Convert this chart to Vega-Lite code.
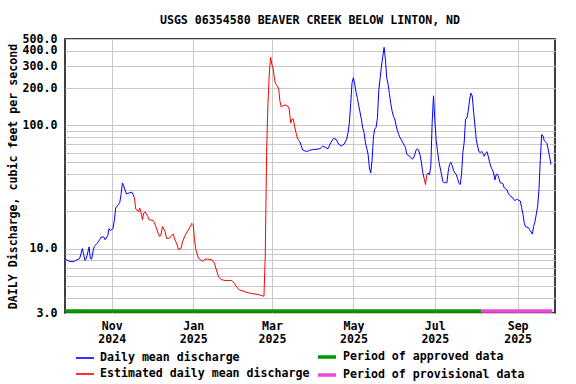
{
"$schema": "https://vega.github.io/schema/vega-lite/v6.json",
"width": 490, "height": 274,
"autosize": {"type": "none"},
"padding": {"left": 65, "top": 39, "right": 21, "bottom": 71},
"background": "white",
"title": {"text": "USGS 06354580 BEAVER CREEK BELOW LINTON, ND", "font": "DejaVu Sans Mono", "fontSize": 11.6, "fontWeight": "bold", "color": "black", "anchor": "middle", "offset": 6},
"config": {"view": {"stroke": "black", "strokeWidth": 1.5}, "font": "DejaVu Sans Mono"},
"resolve": {"scale": {"color": "independent"}},
"layer": [
{
"data": {"values": [
{"date":"2024-09-27","q":8.2,"s":"D","seg":1},
{"date":"2024-09-30","q":7.9,"s":"D","seg":1},
{"date":"2024-10-03","q":7.8,"s":"D","seg":1},
{"date":"2024-10-05","q":8.0,"s":"D","seg":1},
{"date":"2024-10-08","q":8.3,"s":"D","seg":1},
{"date":"2024-10-10","q":10.0,"s":"D","seg":1},
{"date":"2024-10-11","q":8.9,"s":"D","seg":1},
{"date":"2024-10-12","q":8.0,"s":"D","seg":1},
{"date":"2024-10-13","q":8.3,"s":"D","seg":1},
{"date":"2024-10-15","q":10.3,"s":"D","seg":1},
{"date":"2024-10-16","q":8.3,"s":"D","seg":1},
{"date":"2024-10-17","q":8.2,"s":"D","seg":1},
{"date":"2024-10-18","q":9.5,"s":"D","seg":1},
{"date":"2024-10-19","q":10.4,"s":"D","seg":1},
{"date":"2024-10-21","q":11.0,"s":"D","seg":1},
{"date":"2024-10-23","q":11.8,"s":"D","seg":1},
{"date":"2024-10-24","q":12.4,"s":"D","seg":1},
{"date":"2024-10-26","q":12.4,"s":"D","seg":1},
{"date":"2024-10-27","q":11.8,"s":"D","seg":1},
{"date":"2024-10-29","q":12.7,"s":"D","seg":1},
{"date":"2024-10-30","q":14.5,"s":"D","seg":1},
{"date":"2024-10-31","q":14.0,"s":"D","seg":1},
{"date":"2024-11-02","q":14.5,"s":"D","seg":1},
{"date":"2024-11-03","q":17.1,"s":"D","seg":1},
{"date":"2024-11-04","q":21.3,"s":"D","seg":1},
{"date":"2024-11-06","q":22.7,"s":"D","seg":1},
{"date":"2024-11-07","q":23.6,"s":"D","seg":1},
{"date":"2024-11-08","q":27.4,"s":"D","seg":1},
{"date":"2024-11-09","q":34,"s":"D","seg":1},
{"date":"2024-11-10","q":32,"s":"D","seg":1},
{"date":"2024-11-12","q":27.7,"s":"D","seg":1},
{"date":"2024-11-14","q":28.2,"s":"D","seg":1},
{"date":"2024-11-16","q":28.7,"s":"D","seg":1},
{"date":"2024-11-17","q":27.4,"s":"D","seg":1},
{"date":"2024-11-18","q":25.8,"s":"D","seg":1},
{"date":"2024-11-18","q":25.8,"s":"E","seg":2},
{"date":"2024-11-19","q":20.9,"s":"E","seg":2},
{"date":"2024-11-21","q":20.0,"s":"E","seg":2},
{"date":"2024-11-22","q":21.3,"s":"E","seg":2},
{"date":"2024-11-23","q":19.4,"s":"E","seg":2},
{"date":"2024-11-24","q":17.1,"s":"E","seg":2},
{"date":"2024-11-25","q":19.4,"s":"E","seg":2},
{"date":"2024-11-26","q":19.8,"s":"E","seg":2},
{"date":"2024-11-28","q":18.2,"s":"E","seg":2},
{"date":"2024-11-29","q":17.1,"s":"E","seg":2},
{"date":"2024-12-02","q":16.9,"s":"E","seg":2},
{"date":"2024-12-03","q":16.2,"s":"E","seg":2},
{"date":"2024-12-04","q":15.1,"s":"E","seg":2},
{"date":"2024-12-06","q":13.1,"s":"E","seg":2},
{"date":"2024-12-07","q":12.5,"s":"E","seg":2},
{"date":"2024-12-08","q":13.1,"s":"E","seg":2},
{"date":"2024-12-09","q":15.1,"s":"E","seg":2},
{"date":"2024-12-11","q":13.7,"s":"E","seg":2},
{"date":"2024-12-12","q":12.1,"s":"E","seg":2},
{"date":"2024-12-14","q":12.1,"s":"E","seg":2},
{"date":"2024-12-17","q":13.1,"s":"E","seg":2},
{"date":"2024-12-18","q":12.1,"s":"E","seg":2},
{"date":"2024-12-20","q":10.7,"s":"E","seg":2},
{"date":"2024-12-21","q":9.8,"s":"E","seg":2},
{"date":"2024-12-23","q":10.1,"s":"E","seg":2},
{"date":"2024-12-24","q":11.3,"s":"E","seg":2},
{"date":"2024-12-26","q":12.8,"s":"E","seg":2},
{"date":"2024-12-27","q":13.4,"s":"E","seg":2},
{"date":"2024-12-29","q":14.5,"s":"E","seg":2},
{"date":"2024-12-31","q":16.0,"s":"E","seg":2},
{"date":"2025-01-01","q":15.6,"s":"E","seg":2},
{"date":"2025-01-02","q":11.8,"s":"E","seg":2},
{"date":"2025-01-03","q":9.8,"s":"E","seg":2},
{"date":"2025-01-05","q":8.3,"s":"E","seg":2},
{"date":"2025-01-08","q":7.9,"s":"E","seg":2},
{"date":"2025-01-10","q":8.2,"s":"E","seg":2},
{"date":"2025-01-12","q":8.2,"s":"E","seg":2},
{"date":"2025-01-15","q":8.1,"s":"E","seg":2},
{"date":"2025-01-17","q":7.6,"s":"E","seg":2},
{"date":"2025-01-18","q":6.9,"s":"E","seg":2},
{"date":"2025-01-20","q":5.9,"s":"E","seg":2},
{"date":"2025-01-22","q":5.6,"s":"E","seg":2},
{"date":"2025-01-25","q":5.5,"s":"E","seg":2},
{"date":"2025-01-28","q":5.5,"s":"E","seg":2},
{"date":"2025-01-30","q":5.5,"s":"E","seg":2},
{"date":"2025-02-01","q":5.2,"s":"E","seg":2},
{"date":"2025-02-03","q":4.8,"s":"E","seg":2},
{"date":"2025-02-05","q":4.6,"s":"E","seg":2},
{"date":"2025-02-08","q":4.5,"s":"E","seg":2},
{"date":"2025-02-10","q":4.4,"s":"E","seg":2},
{"date":"2025-02-15","q":4.3,"s":"E","seg":2},
{"date":"2025-02-20","q":4.2,"s":"E","seg":2},
{"date":"2025-02-23","q":4.1,"s":"E","seg":2},
{"date":"2025-02-24","q":8.7,"s":"E","seg":2},
{"date":"2025-02-25","q":60,"s":"E","seg":2},
{"date":"2025-02-26","q":150,"s":"E","seg":2},
{"date":"2025-02-27","q":260,"s":"E","seg":2},
{"date":"2025-02-28","q":356,"s":"E","seg":2},
{"date":"2025-03-01","q":310,"s":"E","seg":2},
{"date":"2025-03-02","q":285,"s":"E","seg":2},
{"date":"2025-03-03","q":230,"s":"E","seg":2},
{"date":"2025-03-04","q":215,"s":"E","seg":2},
{"date":"2025-03-06","q":199,"s":"E","seg":2},
{"date":"2025-03-07","q":156,"s":"E","seg":2},
{"date":"2025-03-08","q":140,"s":"E","seg":2},
{"date":"2025-03-09","q":144,"s":"E","seg":2},
{"date":"2025-03-11","q":146,"s":"E","seg":2},
{"date":"2025-03-13","q":142,"s":"E","seg":2},
{"date":"2025-03-14","q":135,"s":"E","seg":2},
{"date":"2025-03-15","q":104,"s":"E","seg":2},
{"date":"2025-03-16","q":112,"s":"E","seg":2},
{"date":"2025-03-17","q":112,"s":"E","seg":2},
{"date":"2025-03-18","q":97,"s":"E","seg":2},
{"date":"2025-03-19","q":87,"s":"E","seg":2},
{"date":"2025-03-20","q":79,"s":"E","seg":2},
{"date":"2025-03-21","q":75,"s":"E","seg":2},
{"date":"2025-03-21","q":75,"s":"D","seg":3},
{"date":"2025-03-22","q":73,"s":"D","seg":3},
{"date":"2025-03-23","q":68,"s":"D","seg":3},
{"date":"2025-03-24","q":63,"s":"D","seg":3},
{"date":"2025-03-27","q":61,"s":"D","seg":3},
{"date":"2025-03-29","q":62.5,"s":"D","seg":3},
{"date":"2025-04-01","q":63.7,"s":"D","seg":3},
{"date":"2025-04-03","q":63.7,"s":"D","seg":3},
{"date":"2025-04-06","q":64.5,"s":"D","seg":3},
{"date":"2025-04-08","q":67.7,"s":"D","seg":3},
{"date":"2025-04-10","q":66,"s":"D","seg":3},
{"date":"2025-04-12","q":64.5,"s":"D","seg":3},
{"date":"2025-04-14","q":72,"s":"D","seg":3},
{"date":"2025-04-16","q":78,"s":"D","seg":3},
{"date":"2025-04-18","q":77,"s":"D","seg":3},
{"date":"2025-04-20","q":70,"s":"D","seg":3},
{"date":"2025-04-22","q":68,"s":"D","seg":3},
{"date":"2025-04-24","q":70,"s":"D","seg":3},
{"date":"2025-04-26","q":77,"s":"D","seg":3},
{"date":"2025-04-27","q":87,"s":"D","seg":3},
{"date":"2025-04-28","q":105,"s":"D","seg":3},
{"date":"2025-04-29","q":150,"s":"D","seg":3},
{"date":"2025-04-30","q":221,"s":"D","seg":3},
{"date":"2025-05-01","q":243,"s":"D","seg":3},
{"date":"2025-05-02","q":215,"s":"D","seg":3},
{"date":"2025-05-03","q":185,"s":"D","seg":3},
{"date":"2025-05-04","q":165,"s":"D","seg":3},
{"date":"2025-05-05","q":144,"s":"D","seg":3},
{"date":"2025-05-07","q":112,"s":"D","seg":3},
{"date":"2025-05-08","q":95,"s":"D","seg":3},
{"date":"2025-05-09","q":87,"s":"D","seg":3},
{"date":"2025-05-10","q":72,"s":"D","seg":3},
{"date":"2025-05-11","q":65,"s":"D","seg":3},
{"date":"2025-05-12","q":58,"s":"D","seg":3},
{"date":"2025-05-13","q":45,"s":"D","seg":3},
{"date":"2025-05-14","q":41,"s":"D","seg":3},
{"date":"2025-05-15","q":52,"s":"D","seg":3},
{"date":"2025-05-16","q":80,"s":"D","seg":3},
{"date":"2025-05-17","q":93,"s":"D","seg":3},
{"date":"2025-05-18","q":96,"s":"D","seg":3},
{"date":"2025-05-19","q":115,"s":"D","seg":3},
{"date":"2025-05-20","q":190,"s":"D","seg":3},
{"date":"2025-05-21","q":240,"s":"D","seg":3},
{"date":"2025-05-22","q":300,"s":"D","seg":3},
{"date":"2025-05-23","q":360,"s":"D","seg":3},
{"date":"2025-05-24","q":428,"s":"D","seg":3},
{"date":"2025-05-25","q":340,"s":"D","seg":3},
{"date":"2025-05-26","q":240,"s":"D","seg":3},
{"date":"2025-05-27","q":215,"s":"D","seg":3},
{"date":"2025-05-28","q":180,"s":"D","seg":3},
{"date":"2025-05-29","q":150,"s":"D","seg":3},
{"date":"2025-05-30","q":130,"s":"D","seg":3},
{"date":"2025-05-31","q":118,"s":"D","seg":3},
{"date":"2025-06-01","q":112,"s":"D","seg":3},
{"date":"2025-06-02","q":99,"s":"D","seg":3},
{"date":"2025-06-03","q":90,"s":"D","seg":3},
{"date":"2025-06-04","q":84,"s":"D","seg":3},
{"date":"2025-06-05","q":79,"s":"D","seg":3},
{"date":"2025-06-06","q":76,"s":"D","seg":3},
{"date":"2025-06-07","q":72,"s":"D","seg":3},
{"date":"2025-06-08","q":69,"s":"D","seg":3},
{"date":"2025-06-09","q":66,"s":"D","seg":3},
{"date":"2025-06-10","q":58,"s":"D","seg":3},
{"date":"2025-06-11","q":57,"s":"D","seg":3},
{"date":"2025-06-12","q":56,"s":"D","seg":3},
{"date":"2025-06-13","q":55,"s":"D","seg":3},
{"date":"2025-06-14","q":53,"s":"D","seg":3},
{"date":"2025-06-15","q":54,"s":"D","seg":3},
{"date":"2025-06-16","q":58,"s":"D","seg":3},
{"date":"2025-06-17","q":63,"s":"D","seg":3},
{"date":"2025-06-18","q":64.5,"s":"D","seg":3},
{"date":"2025-06-19","q":62,"s":"D","seg":3},
{"date":"2025-06-20","q":57,"s":"D","seg":3},
{"date":"2025-06-21","q":49.5,"s":"D","seg":3},
{"date":"2025-06-22","q":41,"s":"D","seg":3},
{"date":"2025-06-23","q":37,"s":"D","seg":3},
{"date":"2025-06-23","q":37,"s":"E","seg":4},
{"date":"2025-06-24","q":33,"s":"E","seg":4},
{"date":"2025-06-25","q":39.5,"s":"E","seg":4},
{"date":"2025-06-26","q":41,"s":"E","seg":4},
{"date":"2025-06-26","q":41,"s":"D","seg":5},
{"date":"2025-06-27","q":39.5,"s":"D","seg":5},
{"date":"2025-06-28","q":47,"s":"D","seg":5},
{"date":"2025-06-29","q":105,"s":"D","seg":5},
{"date":"2025-06-30","q":173,"s":"D","seg":5},
{"date":"2025-07-01","q":110,"s":"D","seg":5},
{"date":"2025-07-02","q":75,"s":"D","seg":5},
{"date":"2025-07-03","q":62,"s":"D","seg":5},
{"date":"2025-07-04","q":51,"s":"D","seg":5},
{"date":"2025-07-05","q":45,"s":"D","seg":5},
{"date":"2025-07-06","q":40,"s":"D","seg":5},
{"date":"2025-07-07","q":35,"s":"D","seg":5},
{"date":"2025-07-08","q":34,"s":"D","seg":5},
{"date":"2025-07-09","q":34.5,"s":"D","seg":5},
{"date":"2025-07-10","q":34,"s":"D","seg":5},
{"date":"2025-07-11","q":42,"s":"D","seg":5},
{"date":"2025-07-12","q":48,"s":"D","seg":5},
{"date":"2025-07-13","q":50,"s":"D","seg":5},
{"date":"2025-07-14","q":47,"s":"D","seg":5},
{"date":"2025-07-15","q":43,"s":"D","seg":5},
{"date":"2025-07-16","q":41,"s":"D","seg":5},
{"date":"2025-07-17","q":40,"s":"D","seg":5},
{"date":"2025-07-18","q":37,"s":"D","seg":5},
{"date":"2025-07-19","q":34,"s":"D","seg":5},
{"date":"2025-07-20","q":33,"s":"D","seg":5},
{"date":"2025-07-21","q":40,"s":"D","seg":5},
{"date":"2025-07-22","q":60,"s":"D","seg":5},
{"date":"2025-07-23","q":73,"s":"D","seg":5},
{"date":"2025-07-24","q":112,"s":"D","seg":5},
{"date":"2025-07-25","q":114,"s":"D","seg":5},
{"date":"2025-07-26","q":130,"s":"D","seg":5},
{"date":"2025-07-27","q":160,"s":"D","seg":5},
{"date":"2025-07-28","q":182,"s":"D","seg":5},
{"date":"2025-07-29","q":173,"s":"D","seg":5},
{"date":"2025-07-30","q":130,"s":"D","seg":5},
{"date":"2025-07-31","q":100,"s":"D","seg":5},
{"date":"2025-08-01","q":77,"s":"D","seg":5},
{"date":"2025-08-02","q":68,"s":"D","seg":5},
{"date":"2025-08-03","q":61,"s":"D","seg":5},
{"date":"2025-08-04","q":60,"s":"D","seg":5},
{"date":"2025-08-05","q":61.5,"s":"D","seg":5},
{"date":"2025-08-06","q":59,"s":"D","seg":5},
{"date":"2025-08-07","q":56,"s":"D","seg":5},
{"date":"2025-08-08","q":59,"s":"D","seg":5},
{"date":"2025-08-09","q":61,"s":"D","seg":5},
{"date":"2025-08-10","q":56,"s":"D","seg":5},
{"date":"2025-08-11","q":50,"s":"D","seg":5},
{"date":"2025-08-12","q":46,"s":"D","seg":5},
{"date":"2025-08-13","q":43.7,"s":"D","seg":5},
{"date":"2025-08-14","q":41,"s":"D","seg":5},
{"date":"2025-08-15","q":36,"s":"D","seg":5},
{"date":"2025-08-16","q":40,"s":"D","seg":5},
{"date":"2025-08-17","q":40,"s":"D","seg":5},
{"date":"2025-08-18","q":37,"s":"D","seg":5},
{"date":"2025-08-19","q":34,"s":"D","seg":5},
{"date":"2025-08-20","q":34,"s":"D","seg":5},
{"date":"2025-08-21","q":33.5,"s":"D","seg":5},
{"date":"2025-08-22","q":31,"s":"D","seg":5},
{"date":"2025-08-23","q":30.5,"s":"D","seg":5},
{"date":"2025-08-24","q":30,"s":"D","seg":5},
{"date":"2025-08-25","q":28,"s":"D","seg":5},
{"date":"2025-08-26","q":27,"s":"D","seg":5},
{"date":"2025-08-27","q":26.5,"s":"D","seg":5},
{"date":"2025-08-28","q":26,"s":"D","seg":5},
{"date":"2025-08-29","q":25,"s":"D","seg":5},
{"date":"2025-08-30","q":24.5,"s":"D","seg":5},
{"date":"2025-08-31","q":25,"s":"D","seg":5},
{"date":"2025-09-01","q":25,"s":"D","seg":5},
{"date":"2025-09-02","q":24.5,"s":"D","seg":5},
{"date":"2025-09-03","q":24.3,"s":"D","seg":5},
{"date":"2025-09-04","q":21.5,"s":"D","seg":5},
{"date":"2025-09-05","q":19,"s":"D","seg":5},
{"date":"2025-09-06","q":16,"s":"D","seg":5},
{"date":"2025-09-07","q":15,"s":"D","seg":5},
{"date":"2025-09-08","q":14.9,"s":"D","seg":5},
{"date":"2025-09-09","q":14.8,"s":"D","seg":5},
{"date":"2025-09-10","q":14.2,"s":"D","seg":5},
{"date":"2025-09-11","q":13.6,"s":"D","seg":5},
{"date":"2025-09-12","q":13.1,"s":"D","seg":5},
{"date":"2025-09-13","q":15.1,"s":"D","seg":5},
{"date":"2025-09-14","q":16.5,"s":"D","seg":5},
{"date":"2025-09-15","q":19,"s":"D","seg":5},
{"date":"2025-09-16","q":22,"s":"D","seg":5},
{"date":"2025-09-17","q":30,"s":"D","seg":5},
{"date":"2025-09-18","q":53,"s":"D","seg":5},
{"date":"2025-09-19","q":84,"s":"D","seg":5},
{"date":"2025-09-20","q":82,"s":"D","seg":5},
{"date":"2025-09-21","q":75,"s":"D","seg":5},
{"date":"2025-09-22","q":73,"s":"D","seg":5},
{"date":"2025-09-23","q":71,"s":"D","seg":5},
{"date":"2025-09-24","q":63,"s":"D","seg":5},
{"date":"2025-09-25","q":55,"s":"D","seg":5},
{"date":"2025-09-26","q":48,"s":"D","seg":5}
]},
"mark": {"type": "line", "strokeWidth": 1},
"encoding": {
"x": {"field": "date", "type": "temporal",
 "scale": {"type": "utc", "nice": false, "domain": [{"year": 2024, "month": 9, "date": 27, "utc": true}, {"year": 2025, "month": 9, "date": 29, "utc": true}]},
 "axis": {"values": [{"year": 2024, "month": 11, "date": 1, "utc": true}, {"year": 2025, "month": 1, "date": 1, "utc": true}, {"year": 2025, "month": 3, "date": 1, "utc": true}, {"year": 2025, "month": 5, "date": 1, "utc": true}, {"year": 2025, "month": 7, "date": 1, "utc": true}, {"year": 2025, "month": 9, "date": 1, "utc": true}],
  "labelExpr": "[utcFormat(datum.value, '%b'), utcFormat(datum.value, '%Y')]",
  "labelFont": "DejaVu Sans Mono", "labelFontSize": 11.6, "labelFontWeight": "bold", "labelColor": "black",
  "labelLineHeight": 13, "labelPadding": 7, "labelFlush": false, "labelOverlap": false,
  "ticks": false, "domain": false, "grid": true, "gridColor": "#c8c8c8", "gridWidth": 1, "title": null}},
"y": {"field": "q", "type": "quantitative",
 "scale": {"type": "log", "domain": [3, 500], "nice": false},
 "axis": {"values": [3,4,5,6,7,8,9,10,20,30,40,50,60,70,80,90,100,200,300,400,500],
  "labelExpr": "indexof([3,10,100,200,300,400,500], datum.value) >= 0 ? format(datum.value, '.1f') : ''",
  "labelFont": "DejaVu Sans Mono", "labelFontSize": 11.6, "labelFontWeight": "bold", "labelColor": "black",
  "labelPadding": 8, "labelOverlap": false, "labelFlush": false,
  "ticks": false, "domain": false, "grid": true, "gridColor": "#c8c8c8", "gridWidth": 1,
  "title": "DAILY Discharge, cubic feet per second", "titleFont": "DejaVu Sans Mono", "titleFontSize": 11.6, "titleFontWeight": "bold", "titleColor": "black", "titlePadding": 4}},
"color": {"field": "s", "type": "nominal",
 "scale": {"domain": ["D", "E"], "range": ["#0000ff", "#ff0000"]},
 "legend": null},
"detail": {"field": "seg", "type": "nominal"}
}
},
{
"data": {"values": [
{"date": "2025-01-01", "series": "Daily mean discharge"},
{"date": "2025-01-01", "series": "Estimated daily mean discharge"}
]},
"mark": {"type": "rule", "strokeWidth": 1, "strokeCap": "butt"},
"encoding": {
"x": {"field": "date", "type": "temporal"},
"x2": {"field": "date"},
"y": {"datum": 3},
"color": {"field": "series", "type": "nominal",
 "scale": {"domain": ["Daily mean discharge", "Estimated daily mean discharge"], "range": ["#0000ff", "#ff0000"]},
 "legend": {"orient": "none", "legendX": 10, "legendY": 309, "title": null, "direction": "vertical",
  "symbolType": "stroke", "symbolSize": 324, "symbolStrokeWidth": 1.6,
  "labelFont": "DejaVu Sans Mono", "labelFontSize": 11.6, "labelFontWeight": "bold", "labelColor": "black",
  "labelOffset": 5, "rowPadding": -3, "padding": 0, "labelLimit": 400}}
}
},
{
"data": {"values": [
{"start": "2024-09-27", "end": "2025-08-05", "period": "Period of approved data"},
{"start": "2025-08-05", "end": "2025-09-27", "period": "Period of provisional data"}
]},
"mark": {"type": "rule", "strokeWidth": 3.5, "yOffset": -2},
"encoding": {
"x": {"field": "start", "type": "temporal"},
"x2": {"field": "end"},
"y": {"datum": 3},
"color": {"field": "period", "type": "nominal",
 "scale": {"domain": ["Period of approved data", "Period of provisional data"], "range": ["#009900", "#f046dc"]},
 "legend": {"orient": "none", "legendX": 251, "legendY": 307, "title": null, "direction": "vertical",
  "symbolType": "stroke", "symbolSize": 324, "symbolStrokeWidth": 3.5,
  "labelFont": "DejaVu Sans Mono", "labelFontSize": 11.6, "labelFontWeight": "bold", "labelColor": "black",
  "labelOffset": 5, "rowPadding": -9, "padding": 0, "labelLimit": 400}}
}
}
]
}
